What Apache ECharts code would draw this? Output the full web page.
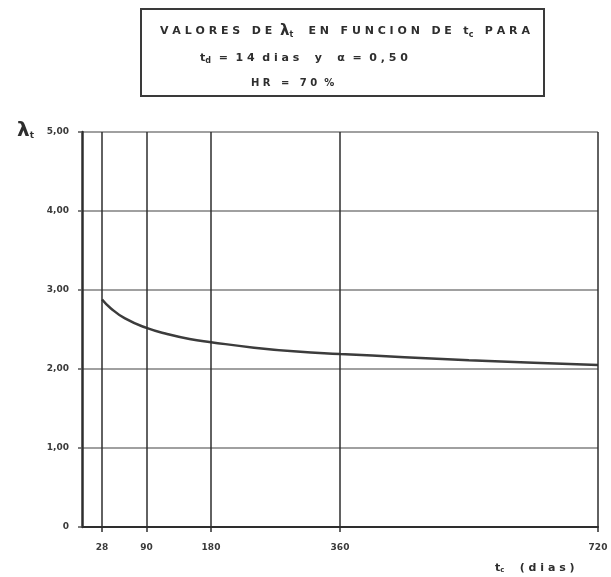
<!DOCTYPE html>
<html>
<head>
<meta charset="utf-8">
<title>Valores de λt en función de tc</title>
<script src="https://cdn.jsdelivr.net/npm/echarts@6.0.0/dist/echarts.min.js"></script>
<style>
  html, body { margin: 0; padding: 0; background: #fff; }
  #chart { width: 611px; height: 577px; }
</style>
</head>
<body>
<div id="chart"></div>
<script>
// edad de carga tc (dias) y valores de lambda t
const tcDias = [28, 40, 60, 90, 120, 150, 180, 240, 300, 360, 450, 540, 630, 720]
const lambdaT = [2.88, 2.77, 2.64, 2.52, 2.44, 2.38, 2.34, 2.27, 2.22, 2.19, 2.15, 2.11, 2.08, 2.05]
// etiquetas del eje x y lineas verticales
const xTicks = [28, 90, 180, 360, 720]
const vLines = [28, 90, 180, 360, 720]

const chart = echarts.init(document.getElementById('chart'))
const ink = '#2e2e2e'
const font = 'DejaVu Sans'

chart.setOption({
  animation: false,
  backgroundColor: '#fff',
  grid: {
    left: 82,
    right: 13,
    top: 132,
    bottom: 50
  },
  graphic: [
    {
      type: 'rect',
      shape: { x: 141, y: 9, width: 403, height: 87 },
      style: { fill: '#fff', stroke: '#3a3a3a', lineWidth: 2 }
    }
  ],
  title: [
    {
      left: 155,
      top: 19,
      text: '{a|V A L O R E S   D E  }{l|λ}{s|t}{a|    E N   F U N C I O N   D E   }{a|t}{s|c}{a|   P A R A}',
      textStyle: {
        rich: {
          a: { fontFamily: font, fontSize: 11, fontWeight: 'bold', color: ink },
          l: { fontFamily: font, fontSize: 15, color: ink },
          s: { fontFamily: font, fontSize: 8, fontWeight: 'bold', color: ink, padding: [6, 0, 0, 0] }
        }
      }
    },
    {
      left: 195,
      top: 46,
      text: '{a|t}{s|d}{a|  =  1 4  d i a s    y    α  =  0 , 5 0}',
      textStyle: {
        rich: {
          a: { fontFamily: font, fontSize: 11, fontWeight: 'bold', color: ink },
          s: { fontFamily: font, fontSize: 8, fontWeight: 'bold', color: ink, padding: [6, 0, 0, 0] }
        }
      }
    },
    {
      left: 246,
      top: 73,
      text: 'H R   =   7 0  %',
      textStyle: { fontFamily: font, fontSize: 10, fontWeight: 'bold', color: ink }
    },
    {
      left: 12,
      top: 116,
      text: '{l|λ}{s|t}',
      textStyle: {
        rich: {
          l: { fontFamily: font, fontSize: 20, color: ink },
          s: { fontFamily: font, fontSize: 9, fontWeight: 'bold', color: ink, padding: [10, 0, 0, 0] }
        }
      }
    },
    {
      left: 490,
      top: 557,
      text: '{a|t}{s|c}{a|    ( d i a s )}',
      textStyle: {
        rich: {
          a: { fontFamily: font, fontSize: 11, fontWeight: 'bold', color: ink },
          s: { fontFamily: font, fontSize: 7, fontWeight: 'bold', color: ink, padding: [5, 0, 0, 0] }
        }
      }
    }
  ],
  xAxis: {
    type: 'value',
    min: 0,
    max: 720,
    axisLine: { show: true, lineStyle: { color: ink, width: 2 } },
    axisTick: {
      show: true,
      customValues: xTicks,
      length: 5,
      lineStyle: { color: ink, width: 1.5 }
    },
    axisLabel: {
      customValues: xTicks,
      margin: 16,
      fontFamily: font,
      fontSize: 9,
      fontWeight: 'bold',
      color: '#3a3a3a'
    },
    splitLine: { show: false }
  },
  yAxis: {
    type: 'value',
    min: 0,
    max: 5,
    interval: 1,
    axisLine: { show: true, lineStyle: { color: ink, width: 2.5 } },
    axisTick: { show: true, length: 4, lineStyle: { color: '#555', width: 1.5 } },
    axisLabel: {
      margin: 13,
      fontFamily: font,
      fontSize: 9,
      fontWeight: 'bold',
      color: '#3a3a3a',
      formatter: function(v) {
        return v === 0 ? '0' : v.toFixed(2).replace('.', ',')
      }
    },
    splitLine: { show: true, lineStyle: { color: '#a0a0a0', width: 2 } }
  },
  series: [
    {
      type: 'line',
      data: tcDias.map((d, i) => [d, lambdaT[i]]),
      smooth: true,
      symbol: 'none',
      lineStyle: { color: '#3c3c3c', width: 2.5 },
      markLine: {
        silent: true,
        symbol: 'none',
        label: { show: false },
        lineStyle: { color: ink, width: 1.5, type: 'solid' },
        data: vLines.map(v => ({ xAxis: v }))
      }
    }
  ]
})
</script>
</body>
</html>
